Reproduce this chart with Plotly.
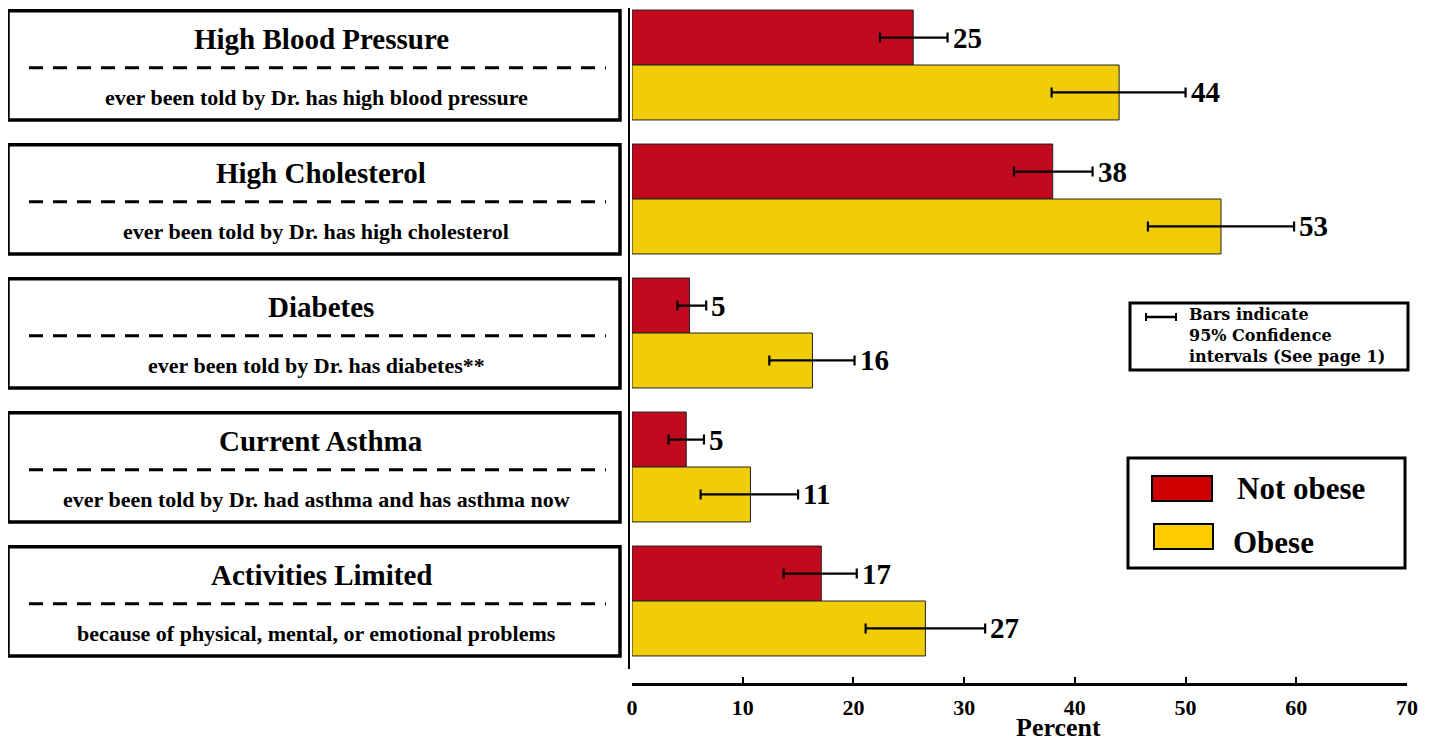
import plotly.graph_objects as go

# ---------------- data ----------------
categories = ["High Blood Pressure", "High Cholesterol", "Diabetes",
              "Current Asthma", "Activities Limited"]
subtitles = ["ever been told by Dr. has high blood pressure",
             "ever been told by Dr. has high cholesterol",
             "ever been told by Dr. has diabetes**",
             "ever been told by Dr. had asthma and has asthma now",
             "because of physical, mental, or emotional problems"]
not_obese = [25.4, 38.0, 5.2, 4.9, 17.1]
not_obese_lo = [22.4, 34.5, 4.1, 3.3, 13.7]
not_obese_hi = [28.5, 41.6, 6.7, 6.5, 20.3]
not_obese_txt = ["25", "38", "5", "5", "17"]
obese = [44.0, 53.2, 16.3, 10.7, 26.5]
obese_lo = [37.9, 46.6, 12.4, 6.2, 21.1]
obese_hi = [50.0, 59.8, 20.1, 15.0, 31.9]
obese_txt = ["44", "53", "16", "11", "27"]
x_ticks = [0, 10, 20, 30, 40, 50, 60, 70]

# ---------------- layout helpers ----------------
OFF = 8  # page body margin
W, H = 1430 - OFF, 742 - OFF
ML = 632 - OFF
PW = 775
MR = W - ML - PW
MT = 0
PH = 683 - OFF
MB = H - MT - PH
FONT = "Liberation Serif"
RED, YEL = "#C20A1F", "#F0CD07"
UNIT = 134  # px per category slot


def xp(px):
    return (px - OFF - ML) / PW


def yp(py):
    return 1 - (py - OFF - MT) / PH


y_top = -(65 - OFF) / UNIT
y_bot = y_top + PH / UNIT

idx = list(range(len(categories)))

fig = go.Figure()
fig.add_trace(go.Bar(
    y=idx, x=not_obese, orientation="h", name="Not obese",
    marker=dict(color=RED, line=dict(color="#222", width=1)),
    error_x=dict(type="data", symmetric=False,
                 array=[h - v for h, v in zip(not_obese_hi, not_obese)],
                 arrayminus=[v - l for v, l in zip(not_obese, not_obese_lo)],
                 color="black", thickness=2.2, width=5),
))
fig.add_trace(go.Bar(
    y=idx, x=obese, orientation="h", name="Obese",
    marker=dict(color=YEL, line=dict(color="#222", width=1)),
    error_x=dict(type="data", symmetric=False,
                 array=[h - v for h, v in zip(obese_hi, obese)],
                 arrayminus=[v - l for v, l in zip(obese, obese_lo)],
                 color="black", thickness=2.2, width=5),
))

ann = []
shapes = []
bold = dict(family=FONT, color="black", weight="bold")

for i in idx:
    # value labels
    ann.append(dict(x=not_obese_hi[i], y=i - 0.205, xref="x", yref="y",
                    text=not_obese_txt[i], showarrow=False, xanchor="left",
                    yanchor="middle", xshift=3, font=dict(size=29, **bold)))
    ann.append(dict(x=obese_hi[i], y=i + 0.205, xref="x", yref="y",
                    text=obese_txt[i], showarrow=False, xanchor="left",
                    yanchor="middle", xshift=3, font=dict(size=29, **bold)))
    # category boxes
    shapes.append(dict(type="rect", xref="paper", yref="y",
                       x0=xp(8), x1=xp(620), y0=i - 0.405, y1=i + 0.41,
                       line=dict(color="black", width=3.5)))
    shapes.append(dict(type="line", xref="paper", yref="y",
                       x0=xp(29), x1=xp(606), y0=i + 0.02, y1=i + 0.02,
                       line=dict(color="black", width=3, dash="14px,10px")))
    ann.append(dict(x=xp(321), y=i - 0.195, xref="paper", yref="y",
                    text=categories[i], showarrow=False,
                    xanchor="center", yanchor="middle",
                    font=dict(size=29, **bold)))
    ann.append(dict(x=xp(316), y=i + 0.24, xref="paper", yref="y",
                    text=subtitles[i], showarrow=False,
                    xanchor="center", yanchor="middle",
                    font=dict(size=22, **bold)))

# vertical separator
shapes.append(dict(type="line", xref="paper", yref="paper",
                   x0=xp(629), x1=xp(629), y0=yp(OFF), y1=yp(669),
                   line=dict(color="black", width=2)))

# CI note box
shapes.append(dict(type="rect", xref="paper", yref="paper",
                   x0=xp(1130), x1=xp(1408), y0=yp(303), y1=yp(370),
                   line=dict(color="black", width=3)))
shapes.append(dict(type="line", xref="paper", yref="paper",
                   x0=xp(1145), x1=xp(1177), y0=yp(317), y1=yp(317),
                   line=dict(color="black", width=2.5)))
for cx in (1146, 1176):
    shapes.append(dict(type="line", xref="paper", yref="paper",
                       x0=xp(cx), x1=xp(cx), y0=yp(313), y1=yp(321),
                       line=dict(color="black", width=2)))
ann.append(dict(x=xp(1187), y=yp(336), xref="paper", yref="paper",
                text="Bars indicate<br>95% Confidence<br>intervals (See page 1)",
                showarrow=False, xanchor="left", yanchor="middle",
                align="left",
                font=dict(size=16, family="DejaVu Serif", color="black",
                          weight="bold")))

# legend box
shapes.append(dict(type="rect", xref="paper", yref="paper",
                   x0=xp(1128), x1=xp(1405), y0=yp(458), y1=yp(568),
                   line=dict(color="black", width=3)))
shapes.append(dict(type="rect", xref="paper", yref="paper",
                   x0=xp(1152), x1=xp(1212), y0=yp(476), y1=yp(501),
                   fillcolor="#CC0000", line=dict(color="black", width=2)))
shapes.append(dict(type="rect", xref="paper", yref="paper",
                   x0=xp(1154), x1=xp(1213), y0=yp(524), y1=yp(549),
                   fillcolor="#FFCC00", line=dict(color="black", width=2)))
ann.append(dict(x=xp(1235), y=yp(488), xref="paper", yref="paper",
                text="Not obese", showarrow=False, xanchor="left",
                yanchor="middle", font=dict(size=31, **bold)))
ann.append(dict(x=xp(1231), y=yp(542), xref="paper", yref="paper",
                text="Obese", showarrow=False, xanchor="left",
                yanchor="middle", font=dict(size=31, **bold)))

# axis title
ann.append(dict(x=xp(1058), y=yp(727), xref="paper", yref="paper",
                text="Percent", showarrow=False, xanchor="center",
                yanchor="middle", font=dict(size=26, **bold)))

fig.update_layout(
    width=W, height=H,
    margin=dict(l=ML, r=MR, t=MT, b=MB, pad=0),
    paper_bgcolor="white", plot_bgcolor="white",
    barmode="group", bargap=0.18, bargroupgap=0,
    showlegend=False,
    annotations=ann, shapes=shapes,
    xaxis=dict(range=[0, 70], tickvals=x_ticks, ticks="inside",
               ticklen=6, tickwidth=2, tickcolor="black",
               showline=True, linewidth=3, linecolor="black",
               showgrid=False, zeroline=False, ticklabelstandoff=3,
               tickfont=dict(size=22, **bold)),
    yaxis=dict(range=[y_bot, y_top], showticklabels=False,
               showgrid=False, zeroline=False, showline=False,
               ticks=""),
)

fig.write_html("out.html")
